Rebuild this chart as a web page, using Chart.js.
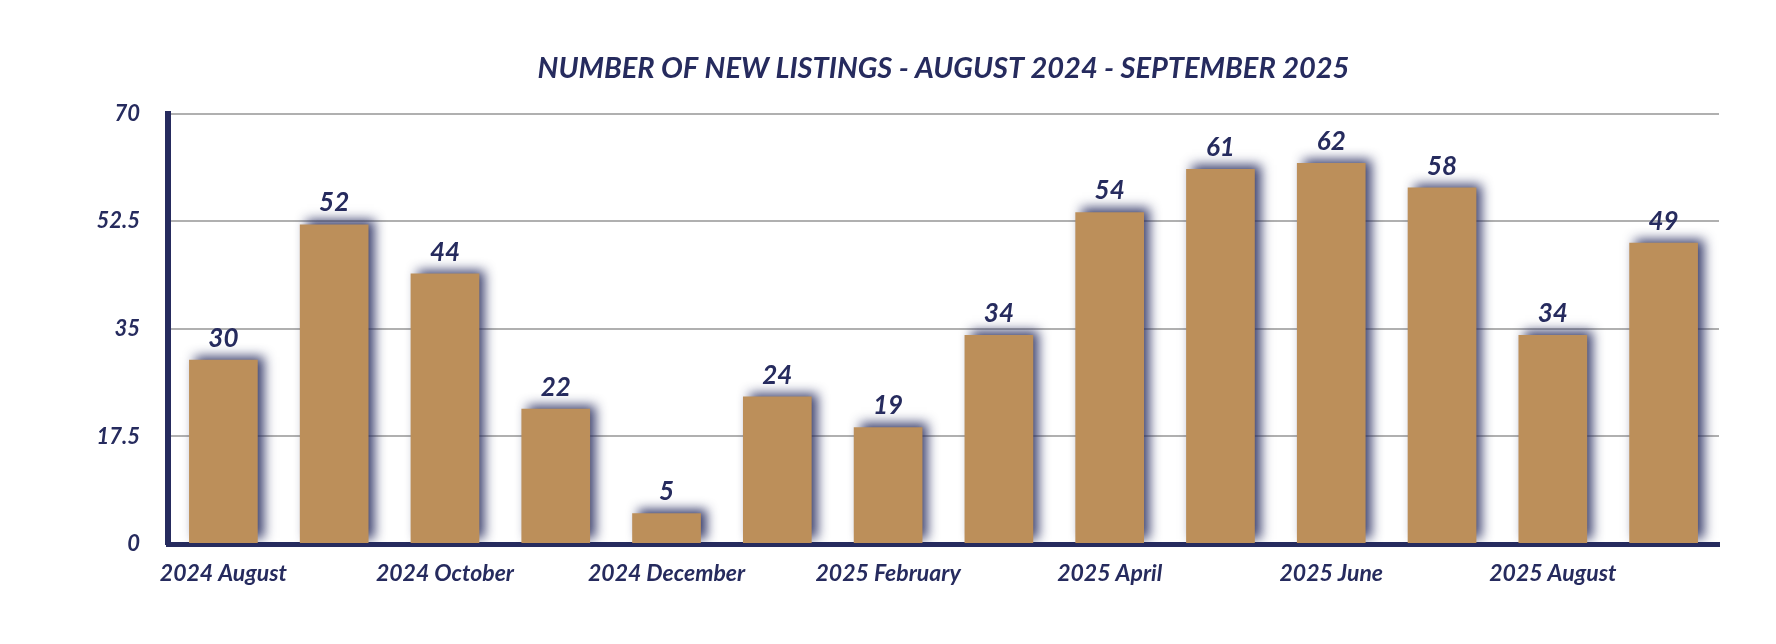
<!DOCTYPE html>
<html>
<head>
<meta charset="utf-8">
<title>New Listings</title>
<script src="https://cdn.jsdelivr.net/npm/chart.js@4.4.1/dist/chart.umd.min.js"></script>
<style>
	html, body { margin: 0; padding: 0; background: #ffffff; }
	#wrap { width: 1776px; height: 644px; }
</style>
</head>
<body>
<div id="wrap"><canvas id="myChart"></canvas></div>
<script>
// months shown on the x axis
const months = ['2024 August', '2024 September', '2024 October', '2024 November', '2024 December',
	'2025 January', '2025 February', '2025 March', '2025 April', '2025 May', '2025 June',
	'2025 July', '2025 August', '2025 September'];
// number of new listings per month
const new_listings = [30, 52, 44, 22, 5, 24, 19, 34, 54, 61, 62, 58, 34, 49];
// y axis ticks
const y_ticks = [0, 17.5, 35, 52.5, 70];

const navy = 'rgb(38, 43, 94)';
const bar_color = 'rgb(188, 143, 90)';
const font_family = 'Lato, "Open Sans", sans-serif';

// blurred navy shadow behind the bars
const barShadow = {
	id: 'barShadow',
	beforeDatasetDraw(chart) {
		const ctx = chart.ctx;
		ctx.save();
		ctx.shadowColor = 'rgba(38, 43, 94, 0.9)';
		ctx.shadowBlur = 11;
		ctx.shadowOffsetX = 6;
		ctx.shadowOffsetY = -4;
	},
	afterDatasetDraw(chart) {
		chart.ctx.restore();
	}
};

// value written above each bar
const valueLabels = {
	id: 'valueLabels',
	afterDatasetsDraw(chart) {
		const ctx = chart.ctx;
		const meta = chart.getDatasetMeta(0);
		ctx.save();
		ctx.font = 'italic 700 26px ' + font_family;
		ctx.fillStyle = navy;
		ctx.textAlign = 'center';
		ctx.textBaseline = 'alphabetic';
		meta.data.forEach(function (bar, i) {
			ctx.fillText(String(chart.data.datasets[0].data[i]), bar.x, bar.y - 13);
		});
		ctx.restore();
	}
};

const ctx = document.getElementById('myChart');
const myChart = new Chart(ctx, {
	type: 'bar',
	data: {
		labels: months,
		datasets: [{
			label: 'New Listings',
			data: new_listings,
			backgroundColor: bar_color,
			borderWidth: 0,
			barPercentage: 0.62,
			categoryPercentage: 1.0
		}]
	},
	options: {
		responsive: true,
		maintainAspectRatio: false,
		animation: false,
		layout: {
			padding: { left: 0, right: 57, top: 0, bottom: 0 }
		},
		plugins: {
			legend: { display: false },
			tooltip: { enabled: false },
			title: {
				display: true,
				fullSize: false,
				text: 'NUMBER OF NEW LISTINGS - AUGUST 2024 - SEPTEMBER 2025',
				color: navy,
				font: { family: font_family, size: 29, weight: '700', style: 'italic', lineHeight: 1.2 },
				padding: { top: 51, bottom: 28 }
			}
		},
		scales: {
			x: {
				z: 1,
				grid: { display: false, drawTicks: false },
				border: { display: true, color: navy, width: 5 },
				ticks: {
					color: navy,
					padding: 16,
					maxRotation: 0,
					autoSkip: false,
					font: { family: font_family, size: 23, weight: '700', style: 'italic' },
					callback: function (value, index) {
						return index % 2 === 0 ? months[index] : '';
					}
				},
				afterFit: function (scale) { scale.height = 100; }
			},
			y: {
				min: 0,
				max: 70,
				afterBuildTicks: function (scale) {
					scale.ticks = y_ticks.map(function (v) { return { value: v }; });
				},
				grid: { color: 'rgb(176, 176, 176)', lineWidth: 2, drawTicks: false },
				border: { display: true, color: navy, width: 6 },
				ticks: {
					color: navy,
					padding: 28,
					font: { family: font_family, size: 22, weight: '700', style: 'italic' }
				},
				afterFit: function (scale) { scale.width = 168; }
			}
		}
	},
	plugins: [barShadow, valueLabels]
});
</script>
</body>
</html>
